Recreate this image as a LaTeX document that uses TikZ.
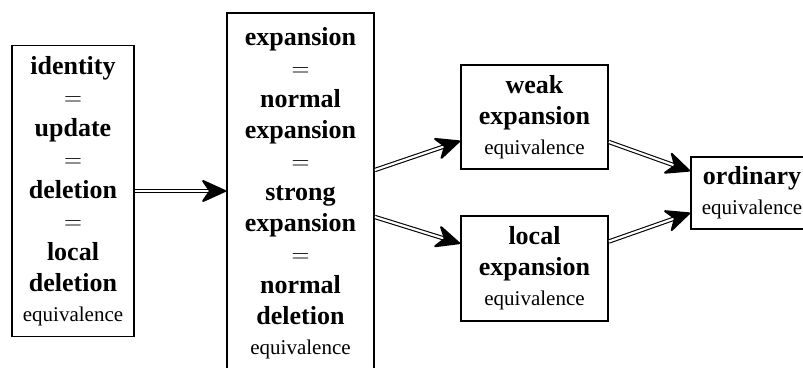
\documentclass[tikz,border=0pt]{standalone}
\usepackage{fontspec}
\setmainfont{Liberation Serif}
\usetikzlibrary{calc}
\tikzset{
  box/.style={draw, line width=1.8pt, align=center, inner sep=0pt,
    font=\fontsize{26}{31}\selectfont\bfseries},
  dbl/.style={double, double distance=2.2pt, line width=1.1pt},
  tiphead/.style={fill=black, draw=black, line width=2pt, line join=round},
}
\newcommand{\eqv}{\\[-1pt]{\fontsize{21}{25}\selectfont\mdseries equivalence}}
\newcommand{\dblarrow}[2]{%
  \coordinate (S) at #1; \coordinate (E0) at #2;
  \coordinate (E) at ($(E0)!1pt!(S)$);
  \coordinate (C) at ($(E)!22pt!(S)$);
  \draw[dbl] (S) -- ($(E)!14pt!(S)$);
  \path[tiphead] (E) -- ($(C)!10pt!90:(E)$) -- ($(E)!15pt!(S)$) -- ($(C)!10pt!-90:(E)$) -- cycle;}
\begin{document}
\begin{tikzpicture}[x=1pt,y=-1pt]
\useasboundingbox (0,0) rectangle (803,367);
\node[box, minimum width=122pt, minimum height=291pt] (b1) at (73,191)
  {identity\\$=$\\update\\$=$\\deletion\\$=$\\local\\deletion\eqv};
\node[box, minimum width=147pt, minimum height=360pt] (b2) at (300.5,193)
  {expansion\\$=$\\normal\\expansion\\$=$\\strong\\expansion\\$=$\\normal\\deletion\eqv};
\node[box, minimum width=147pt, minimum height=104pt] (wk) at (534.5,117)
  {weak\\expansion\eqv};
\node[box, minimum width=147pt, minimum height=105pt] (lc) at (534.5,268.5)
  {local\\expansion\eqv};
\node[box, minimum width=122pt, minimum height=72pt] (od) at (752,193)
  {ordinary\eqv};
\dblarrow{(b1.east)}{(b1.east -| b2.west)}
\dblarrow{([yshift=23pt]b2.east)}{([yshift=-24pt]wk.west)}
\dblarrow{([yshift=-24pt]b2.east)}{([yshift=25pt]lc.west)}
\dblarrow{([yshift=-25pt]wk.east)}{([yshift=22pt]od.west)}
\dblarrow{([yshift=27pt]lc.east)}{([yshift=-20pt]od.west)}
\end{tikzpicture}
\end{document}
